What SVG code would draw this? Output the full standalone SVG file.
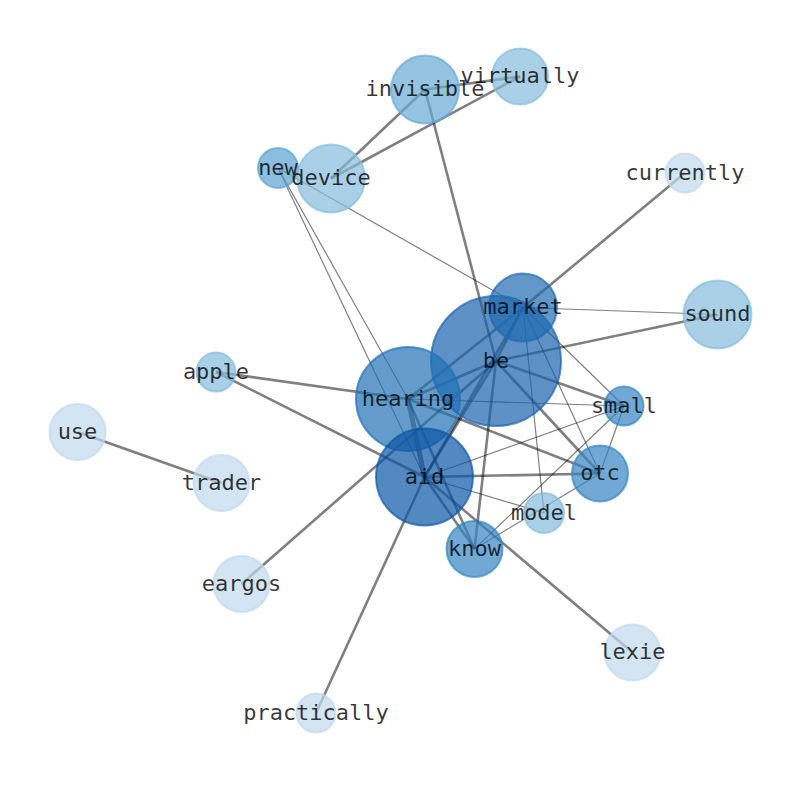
<svg xmlns="http://www.w3.org/2000/svg" width="794" height="790" viewBox="0 0 794 790">
<style>
  .e { stroke: #000; stroke-opacity: 0.5; fill: none; stroke-linecap: butt; }
  .thick { stroke-width: 2.6; }
  .thin { stroke-width: 1.2; }
  .xthick { stroke-width: 5; }
  .n { fill-opacity: 0.7; stroke-opacity: 0.7; stroke-width: 2; }
  .l { font-family: "DejaVu Sans Mono", monospace; font-size: 22px; fill: #000; fill-opacity: 0.78; text-anchor: middle; }
  .c1 { fill: #c0d8ee; stroke: #c0d8ee; }
  .c2 { fill: #84bcdb; stroke: #84bcdb; }
  .c3 { fill: #68aad6; stroke: #68aad6; }
  .c4 { fill: #5aa2d2; stroke: #5aa2d2; }
  .c5 { fill: #3585c2; stroke: #3585c2; }
  .c6 { fill: #1f6bb0; stroke: #1f6bb0; }
  .c7 { fill: #1a63ad; stroke: #1a63ad; }
  .c8 { fill: #2171b5; stroke: #2171b5; }
  .c9 { fill: #0b56a5; stroke: #0b56a5; }
</style>
<rect width="794" height="790" fill="#fff"/>
<g id="edges">
  <line class="e thick" x1="425" y1="89.5" x2="520" y2="76.5"/>
  <line class="e thick" x1="425" y1="89.5" x2="331" y2="178.5"/>
  <line class="e thick" x1="520" y1="76.5" x2="331" y2="178.5"/>
  <line class="e thick" x1="425" y1="89.5" x2="496" y2="361"/>
  <line class="e thick" x1="685" y1="173" x2="523" y2="307.5"/>
  <line class="e thick" x1="717.5" y1="314.5" x2="496" y2="361"/>
  <line class="e thick" x1="216" y1="372" x2="408" y2="399"/>
  <line class="e thick" x1="216" y1="372" x2="424.5" y2="477"/>
  <line class="e thick" x1="77.5" y1="432" x2="221.5" y2="483"/>
  <line class="e thick" x1="241.5" y1="584" x2="496" y2="361"/>
  <line class="e thick" x1="316" y1="713" x2="424.5" y2="477"/>
  <line class="e thick" x1="424.5" y1="477" x2="632.5" y2="652.5"/>
  <line class="e thick" x1="496" y1="361" x2="624" y2="406"/>
  <line class="e thick" x1="496" y1="361" x2="600" y2="473.5"/>
  <line class="e thick" x1="496" y1="361" x2="474.5" y2="549"/>
  <line class="e thick" x1="496" y1="361" x2="408" y2="399"/>
  <line class="e thick" x1="496" y1="361" x2="424.5" y2="477"/>
  <line class="e thick" x1="496" y1="361" x2="523" y2="307.5"/>
  <line class="e thick" x1="523" y1="307.5" x2="408" y2="399"/>
  <line class="e thick" x1="523" y1="307.5" x2="424.5" y2="477"/>
  <line class="e thick" x1="408" y1="399" x2="600" y2="473.5"/>
  <line class="e thick" x1="408" y1="399" x2="474.5" y2="549"/>
  <line class="e thick" x1="424.5" y1="477" x2="474.5" y2="549"/>
  <line class="e thick" x1="424.5" y1="477" x2="600" y2="473.5"/>
  <line class="e xthick" x1="408" y1="399" x2="424.5" y2="477"/>
  <line class="e thin" x1="278" y1="168" x2="523" y2="307.5"/>
  <line class="e thin" x1="278" y1="168" x2="408" y2="399"/>
  <line class="e thin" x1="278" y1="168" x2="424.5" y2="477"/>
  <line class="e thin" x1="523" y1="307.5" x2="717.5" y2="314.5"/>
  <line class="e thin" x1="523" y1="307.5" x2="624" y2="406"/>
  <line class="e thin" x1="523" y1="307.5" x2="600" y2="473.5"/>
  <line class="e thin" x1="523" y1="307.5" x2="544" y2="513"/>
  <line class="e thin" x1="408" y1="399" x2="624" y2="406"/>
  <line class="e thin" x1="424.5" y1="477" x2="624" y2="406"/>
  <line class="e thin" x1="424.5" y1="477" x2="544" y2="513"/>
  <line class="e thin" x1="624" y1="406" x2="600" y2="473.5"/>
  <line class="e thin" x1="624" y1="406" x2="474.5" y2="549"/>
  <line class="e thin" x1="474.5" y1="549" x2="600" y2="473.5"/>
</g>
<g id="node-invisible"><circle class="n c3" cx="425" cy="89.5" r="34"/><text class="l" x="425" y="96">invisible</text></g>
<g id="node-virtually"><circle class="n c2" cx="520" cy="76.5" r="28"/><text class="l" x="520" y="83">virtually</text></g>
<g id="node-new"><circle class="n c4" cx="278" cy="168" r="20"/><text class="l" x="278" y="174.5">new</text></g>
<g id="node-device"><circle class="n c2" cx="331" cy="178.5" r="34"/><text class="l" x="331" y="185">device</text></g>
<g id="node-currently"><circle class="n c1" cx="685" cy="173" r="19.5"/><text class="l" x="685" y="179.5">currently</text></g>
<g id="node-sound"><circle class="n c2" cx="717.5" cy="314.5" r="34"/><text class="l" x="717.5" y="321">sound</text></g>
<g id="node-be"><circle class="n c7" cx="496" cy="361" r="65"/><text class="l" x="496" y="367.5">be</text></g>
<g id="node-market"><circle class="n c6" cx="523" cy="307.5" r="34"/><text class="l" x="523" y="314">market</text></g>
<g id="node-apple"><circle class="n c2" cx="216" cy="372" r="19.5"/><text class="l" x="216" y="378.5">apple</text></g>
<g id="node-hearing"><circle class="n c8" cx="408" cy="399" r="52"/><text class="l" x="408" y="405.5">hearing</text></g>
<g id="node-small"><circle class="n c5" cx="624" cy="406" r="19.5"/><text class="l" x="624" y="412.5">small</text></g>
<g id="node-use"><circle class="n c1" cx="77.5" cy="432" r="28"/><text class="l" x="77.5" y="438.5">use</text></g>
<g id="node-aid"><circle class="n c9" cx="424.5" cy="477" r="48.5"/><text class="l" x="424.5" y="483.5">aid</text></g>
<g id="node-trader"><circle class="n c1" cx="221.5" cy="483" r="28"/><text class="l" x="221.5" y="489.5">trader</text></g>
<g id="node-otc"><circle class="n c5" cx="600" cy="473.5" r="28"/><text class="l" x="600" y="480">otc</text></g>
<g id="node-model"><circle class="n c2" cx="544" cy="513" r="20"/><text class="l" x="544" y="519.5">model</text></g>
<g id="node-know"><circle class="n c5" cx="474.5" cy="549" r="28"/><text class="l" x="474.5" y="555.5">know</text></g>
<g id="node-eargos"><circle class="n c1" cx="241.5" cy="584" r="28"/><text class="l" x="241.5" y="590.5">eargos</text></g>
<g id="node-lexie"><circle class="n c1" cx="632.5" cy="652.5" r="28"/><text class="l" x="632.5" y="659">lexie</text></g>
<g id="node-practically"><circle class="n c1" cx="316" cy="713" r="19.5"/><text class="l" x="316" y="719.5">practically</text></g>
</svg>
